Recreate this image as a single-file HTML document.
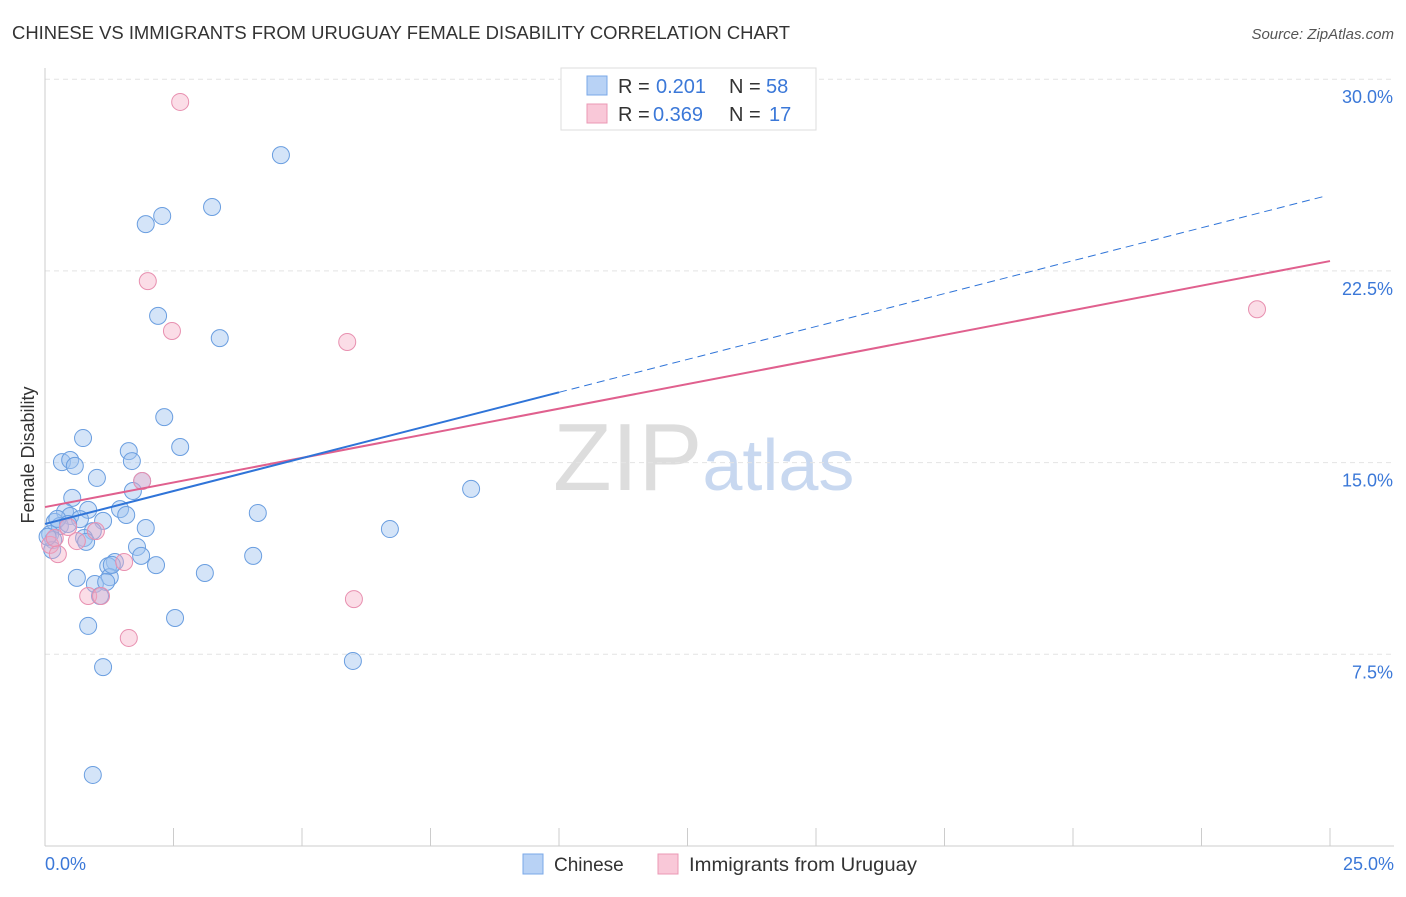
<!DOCTYPE html>
<html><head><meta charset="utf-8">
<style>
body{margin:0;background:#fff;font-family:"Liberation Sans",sans-serif;}
svg text{font-family:"Liberation Sans",sans-serif;}
</style></head>
<body>
<svg id="chart" width="1406" height="892" xmlns="http://www.w3.org/2000/svg">
<text x="12" y="39" font-size="18" fill="#333" textLength="778" lengthAdjust="spacingAndGlyphs">CHINESE VS IMMIGRANTS FROM URUGUAY FEMALE DISABILITY CORRELATION CHART</text>
<text x="1394" y="39" font-size="15" fill="#555" text-anchor="end" font-style="italic">Source: ZipAtlas.com</text>
<text x="553" y="490" font-size="96" fill="#ddd" font-family="Liberation Serif">ZIP<tspan fill="#c8d8f0" font-family="Liberation Sans" font-size="72">atlas</tspan></text>
<g id="grid"></g>
<g id="axes"></g>
<g id="marks"></g>
<text transform="translate(34,455) rotate(-90)" font-size="18" fill="#333" text-anchor="middle">Female Disability</text>
<g>
<rect x="561" y="68" width="255" height="62" fill="#fff" stroke="#ddd"/>
<rect x="587" y="76" width="20" height="19" fill="#b8d2f5" stroke="#7aa8e8"/>
<text x="618" y="93" font-size="20" fill="#333">R =</text>
<text x="656" y="93" font-size="20" fill="#3b78d8">0.201</text>
<text x="729" y="93" font-size="20" fill="#333">N =</text>
<text x="766" y="93" font-size="20" fill="#3b78d8">58</text>
<rect x="587" y="104" width="20" height="19" fill="#f9c8d8" stroke="#eb98b5"/>
<text x="618" y="121" font-size="20" fill="#333">R =</text>
<text x="653" y="121" font-size="20" fill="#3b78d8">0.369</text>
<text x="729" y="121" font-size="20" fill="#333">N =</text>
<text x="769" y="121" font-size="20" fill="#3b78d8">17</text>
</g>
<g>
<rect x="523" y="854" width="20" height="20" fill="#b8d2f5" stroke="#7aa8e8"/>
<text x="554" y="871" font-size="19" fill="#333">Chinese</text>
<rect x="658" y="854" width="20" height="20" fill="#f9c8d8" stroke="#eb98b5"/>
<text x="689" y="871" font-size="19" fill="#333" textLength="228" lengthAdjust="spacingAndGlyphs">Immigrants from Uruguay</text>
</g>
</svg>
<script>
const yTicks=[7.5,15,22.5,30];
const yTickLabels=["7.5%","15.0%","22.5%","30.0%"];
const xTickLabels=["0.0%","25.0%"];
const chineseX=[4.59,3.25,2.28,1.96,2.20,3.40,2.32,0.74,2.63,1.63,1.69,0.33,0.49,0.58,1.01,1.89,1.71,8.29,0.53,1.46,1.58,4.14,0.39,0.84,0.49,0.68,1.13,0.19,0.29,1.96,6.71,0.93,0.10,0.76,0.16,1.79,0.14,4.05,1.87,1.36,1.23,2.16,1.26,0.62,3.11,0.97,1.19,1.07,2.53,0.84,5.99,1.13,0.93,0.24,0.05,0.45,1.30,0.80];
const chineseY=[27.03,25.0,24.65,24.33,20.74,19.87,16.78,15.96,15.61,15.45,15.06,15.02,15.1,14.87,14.4,14.28,13.89,13.97,13.62,13.18,12.95,13.03,13.07,13.15,12.91,12.79,12.72,12.68,12.52,12.44,12.4,12.32,12.2,12.05,11.97,11.7,11.58,11.35,11.35,11.11,10.95,10.99,10.52,10.49,10.68,10.25,10.33,9.78,8.92,8.61,7.24,7.0,2.78,12.8,12.1,12.6,11.0,11.9];
const uruguayX=[2.63,2.0,2.47,5.88,23.58,1.89,0.45,0.99,0.62,0.10,0.25,1.54,0.84,1.09,6.01,1.63,0.19];
const uruguayY=[29.11,22.1,20.15,19.72,21.0,14.28,12.48,12.32,11.93,11.78,11.42,11.11,9.78,9.78,9.66,8.14,12.05];
const chineseFit=[12.6,0.515];
const uruguayFit=[13.26,0.385];

const X0=45,X1=1330,YB=846,YS=25.56;
const xs=v=>X0+v*(X1-X0)/25;
const ys=v=>YB-v*YS;
const NS="http://www.w3.org/2000/svg";
function mk(tag,attrs,parent){const e=document.createElementNS(NS,tag);for(const k in attrs)e.setAttribute(k,attrs[k]);parent.appendChild(e);return e;}
const grid=document.getElementById('grid'),axes=document.getElementById('axes'),marks=document.getElementById('marks');
yTicks.forEach((t,i)=>{
  const l=mk('line',{x1:X0,x2:1394,y1:ys(t),y2:ys(t),stroke:'#e4e4e4','stroke-dasharray':'5,4'},grid);
  
  
  const tx=mk('text',{x:1393,y:ys(t)+24,'font-size':18,fill:'#3b78d8','text-anchor':'end'},axes);
  tx.textContent=yTickLabels[i];
  
  
});
const ax=mk('line',{x1:X0,x2:1394,y1:YB,y2:YB,stroke:'#ccc'},axes);


const ay=mk('line',{x1:X0,x2:X0,y1:68,y2:YB,stroke:'#ccc'},axes);


for(let i=1;i<=10;i++){
  const t=mk('line',{x1:xs(i*2.5),x2:xs(i*2.5),y1:YB,y2:YB-18,stroke:'#ccc'},axes);
  
  
}
[[0,'start',45],[25,'end',1394]].forEach((d,i)=>{
  const t=mk('text',{x:d[2],y:870,'font-size':18,fill:'#3b78d8','text-anchor':d[1]},axes);
  t.textContent=xTickLabels[i];
  
  
});
chineseX.forEach((x,i)=>{
  const c=mk('circle',{cx:xs(x),cy:ys(chineseY[i]),r:8.5,fill:'rgba(160,196,240,0.45)',stroke:'#6a9ee0','stroke-width':1},marks);
  
  
});
uruguayX.forEach((x,i)=>{
  const c=mk('circle',{cx:xs(x),cy:ys(uruguayY[i]),r:8.5,fill:'rgba(245,170,195,0.4)',stroke:'#e890b0','stroke-width':1},marks);
  
  
});
const f=(fit,x)=>fit[0]+fit[1]*x;
const ul=mk('line',{x1:xs(0),y1:ys(f(uruguayFit,0)),x2:xs(25),y2:ys(f(uruguayFit,25)),stroke:'#e0608e','stroke-width':2},marks);


const cl=mk('line',{x1:xs(0),y1:ys(f(chineseFit,0)),x2:xs(10),y2:ys(f(chineseFit,10)),stroke:'#2f74d8','stroke-width':2},marks);


const cd=mk('line',{x1:xs(10),y1:ys(f(chineseFit,10)),x2:xs(24.9),y2:ys(f(chineseFit,24.9)),stroke:'#2f74d8','stroke-width':1,'stroke-dasharray':'8,5'},marks);


</script>
</body></html>
